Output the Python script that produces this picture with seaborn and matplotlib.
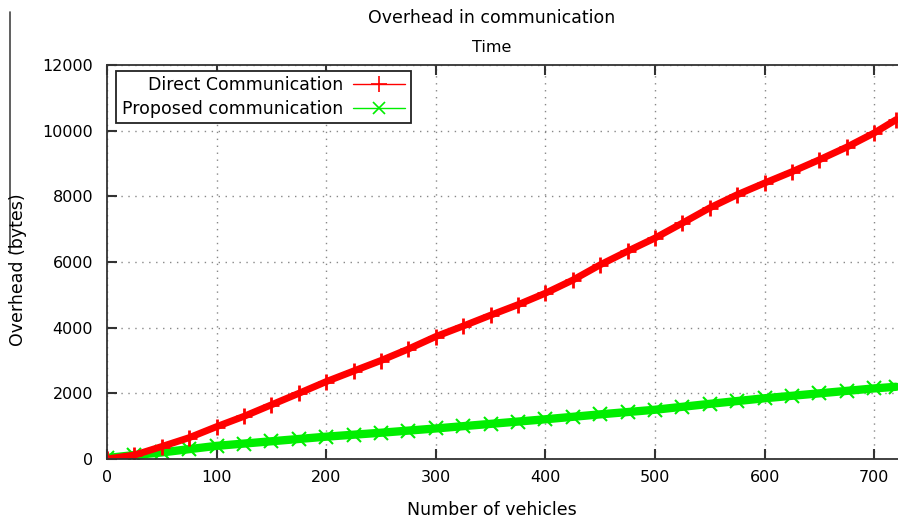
import matplotlib
matplotlib.use('Agg')
import matplotlib.pyplot as plt
from matplotlib.lines import Line2D
import seaborn as sns

# values (every 25 vehicles)
vehicles = [0, 25, 50, 75, 100, 125, 150, 175, 200, 225, 250, 275, 300, 325, 350,
            375, 400, 425, 450, 475, 500, 525, 550, 575, 600, 625, 650, 675, 700, 720]
direct = [0, 120, 380, 650, 985, 1300, 1650, 2000, 2357, 2680, 3000, 3350, 3730, 4050, 4380,
          4700, 5050, 5450, 5915, 6330, 6730, 7185, 7650, 8050, 8405, 8750, 9115, 9500, 9930, 10335]
proposed = [30, 120, 200, 300, 400, 470, 540, 610, 680, 740, 800, 865, 930, 1000, 1070,
            1140, 1210, 1285, 1360, 1430, 1500, 1590, 1680, 1765, 1850, 1925, 2000, 2075, 2150, 2200]

x_ticks = [0, 100, 200, 300, 400, 500, 600, 700]
y_ticks = [0, 2000, 4000, 6000, 8000, 10000, 12000]

RED = '#ff0000'
GREEN = '#00ee00'

sns.set_style('white')
plt.rcParams['font.family'] = ['DejaVu Sans']
plt.rcParams['font.size'] = 11
plt.rcParams['text.color'] = 'black'

fig = plt.figure(figsize=(8.98, 5.18), dpi=100)
ax = fig.add_axes([107 / 898, 1 - 459 / 518, 1 - 107 / 898, (459 - 65) / 518])

# thick bands of markers, like the gnuplot output
sns.lineplot(x=vehicles, y=proposed, color=GREEN, linewidth=6, marker='x',
             markersize=10, markeredgewidth=1.5, markeredgecolor=GREEN, ax=ax)
sns.lineplot(x=vehicles, y=direct, color=RED, linewidth=5, marker='+',
             markersize=12, markeredgewidth=2, markeredgecolor=RED, ax=ax)

ax.set_xlim(0, (898 - 107) / 1.096)
ax.set_ylim(0, 12000)
ax.set_xticks(x_ticks)
ax.set_yticks(y_ticks)
ax.grid(True, linestyle=(0, (1, 4)), color='#888888', linewidth=1)
ax.tick_params(direction='in', length=7, width=1.5, top=True, bottom=True, left=True,
               right=False, labelsize=11.5, pad=8, colors='#333333', labelcolor='black')
ax.tick_params(axis='y', pad=10)
for s in ['left', 'top', 'bottom']:
    ax.spines[s].set_color('#333333')
    ax.spines[s].set_linewidth(1.3)
ax.spines['right'].set_visible(False)

handles = [Line2D([], [], color=RED, marker='+', markersize=11, markeredgewidth=1.2, lw=1),
           Line2D([], [], color=GREEN, marker='x', markersize=9, markeredgewidth=1.2, lw=1)]
leg = ax.legend(handles, ['Direct Communication', 'Proposed communication'],
                loc='upper left', bbox_to_anchor=(0.012, 0.985), markerfirst=False,
                numpoints=1, handlelength=3.0, fancybox=False, framealpha=1,
                edgecolor='#222222', borderaxespad=0, labelspacing=0.35,
                borderpad=0.3, handletextpad=0.6, fontsize=12.5)
leg.get_frame().set_linewidth(1.3)
for t in leg.get_texts():
    t.set_color('black')

fig.text(492 / 898, 1 - 18 / 518, 'Overhead in communication', ha='center', va='center', fontsize=12.5)
fig.text(492 / 898, 1 - 48 / 518, 'Time', ha='center', va='center', fontsize=11.5)
fig.text(492 / 898, 1 - 510 / 518, 'Number of vehicles', ha='center', va='center', fontsize=12.5)
fig.text(18 / 898, 1 - 270 / 518, 'Overhead (bytes)', ha='center', va='center',
         rotation=90, fontsize=12.5)

# stray border line at the left edge of the scan
fig.add_artist(Line2D([10 / 898, 10 / 898], [1 - 12 / 518, 1 - 253 / 518],
                      color='#444444', lw=1.2))

plt.savefig('out.png', dpi=100)
